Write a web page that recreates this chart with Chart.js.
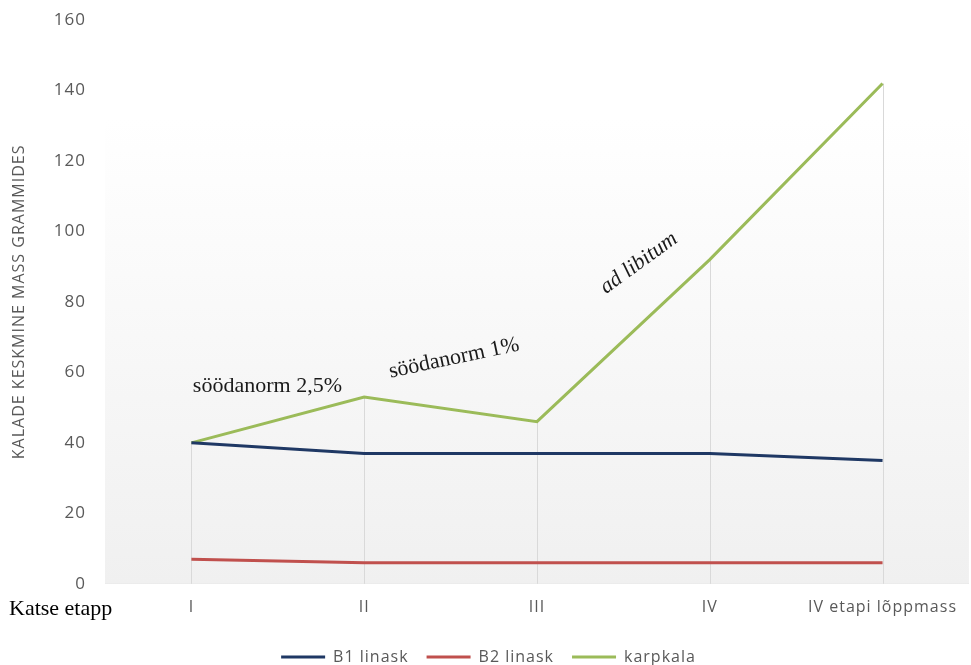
<!DOCTYPE html>
<html>
<head>
<meta charset="utf-8">
<script src="https://cdn.jsdelivr.net/npm/chart.js@4.4.1/dist/chart.umd.min.js"></script>
<style>
  body { margin: 0; background: #fff; }
  #wrap { width: 971px; height: 665px; }
</style>
</head>
<body>
<div id="wrap"><canvas id="chart" width="971" height="665"></canvas></div>
<script>
const categories = ['I', 'II', 'III', 'IV', 'IV etapi lõppmass'];
const b1Linask = [40, 37, 37, 37, 35];
const b2Linask = [7, 6, 6, 6, 6];
const karpkala = [40, 53, 46, 92, 142];
const yTicks = [0, 20, 40, 60, 80, 100, 120, 140, 160];

// text labels placed on the chart: [category index, value, angle in degrees, text, italic]
const notes = [
  [0.44, 56, 0, 'söödanorm 2,5%', false],
  [1.52, 64, -12, 'söödanorm 1%', false],
  [2.59, 91, -36, 'ad libitum', true]
];

const sans = '"Open Sans", Lato, sans-serif';
const serif = '"Liberation Serif", "DejaVu Serif", serif';

// the reference's sans text is a little spaced out
// (set again before layout and draw, resizing the canvas resets it)
const spacing = {
  id: 'spacing',
  beforeUpdate(chart) { chart.ctx.letterSpacing = '1px'; },
  beforeDraw(chart) { chart.ctx.letterSpacing = '1px'; }
};

// plot background: white at top fading to light grey at the axis
const backdrop = {
  id: 'backdrop',
  beforeDatasetsDraw(chart) {
    const { ctx, chartArea, scales } = chart;
    const top = scales.y.getPixelForValue(132);
    const g = ctx.createLinearGradient(0, top, 0, chartArea.bottom);
    g.addColorStop(0, '#ffffff');
    g.addColorStop(1, '#f0f0f0');
    ctx.save();
    ctx.fillStyle = g;
    ctx.fillRect(chartArea.left, top, chartArea.right - chartArea.left, chartArea.bottom - top);

    // drop lines from the highest point of each category
    ctx.strokeStyle = '#d9d9d9';
    ctx.lineWidth = 1;
    categories.forEach((c, i) => {
      const hi = Math.max(b1Linask[i], b2Linask[i], karpkala[i]);
      const x = Math.round(scales.x.getPixelForValue(i)) + 0.5;
      ctx.beginPath();
      ctx.moveTo(x, scales.y.getPixelForValue(hi));
      ctx.lineTo(x, chartArea.bottom);
      ctx.stroke();
    });
    ctx.restore();
  },
  afterDraw(chart) {
    const { ctx, chartArea, scales } = chart;
    ctx.save();
    ctx.letterSpacing = '0px';
    ctx.fillStyle = '#000';
    ctx.textBaseline = 'middle';
    ctx.textAlign = 'left';
    ctx.font = '22px ' + serif;
    ctx.fillText('Katse etapp', 9, chartArea.bottom + 25);

    ctx.textAlign = 'center';
    notes.forEach(([ci, v, ang, txt, it]) => {
      const x = scales.x.getPixelForValue(0) + ci * (scales.x.getPixelForValue(1) - scales.x.getPixelForValue(0));
      const y = scales.y.getPixelForValue(v);
      ctx.save();
      ctx.translate(x, y);
      ctx.rotate(ang * Math.PI / 180);
      ctx.font = (it ? 'italic ' : '') + '22px ' + serif;
      ctx.fillStyle = '#1a1a1a';
      ctx.fillText(txt, 0, 0);
      ctx.restore();
    });
    ctx.restore();
  }
};

new Chart(document.getElementById('chart'), {
  type: 'line',
  data: {
    labels: categories,
    datasets: [
      { label: 'B1 linask', data: b1Linask, borderColor: '#1f3864', backgroundColor: '#1f3864', borderWidth: 3 },
      { label: 'B2 linask', data: b2Linask, borderColor: '#c0504d', backgroundColor: '#c0504d', borderWidth: 3 },
      { label: 'karpkala', data: karpkala, borderColor: '#9bbb59', backgroundColor: '#9bbb59', borderWidth: 3 }
    ]
  },
  options: {
    responsive: false,
    animation: false,
    layout: { padding: { top: 20, right: -6, left: 0, bottom: -10 } },
    elements: { point: { radius: 0 }, line: { tension: 0 } },
    plugins: {
      tooltip: { enabled: false },
      legend: {
        position: 'bottom',
        labels: {
          usePointStyle: true,
          pointStyle: 'line',
          pointStyleWidth: 44,
          boxHeight: 3,
          color: '#595959',
          font: { family: sans, size: 16 },
          padding: 18
        }
      }
    },
    scales: {
      x: {
        offset: true,
        grid: { display: false, drawTicks: false },
        border: { display: true, color: '#d9d9d9', width: 1 },
        ticks: { color: '#595959', font: { family: sans, size: 16 }, padding: 14, maxRotation: 0 }
      },
      y: {
        min: 0,
        max: 160,
        afterFit(scale) { scale.width = 105; },
        afterBuildTicks(scale) { scale.ticks = yTicks.map(v => ({ value: v })); },
        // invisible tick marks push the labels away from the plot
        grid: { display: true, drawOnChartArea: false, drawTicks: true, tickLength: 17, tickColor: 'rgba(0,0,0,0)' },
        border: { display: false },
        ticks: { color: '#595959', font: { family: sans, size: 17 }, padding: 2 },
        title: {
          display: true,
          text: 'KALADE KESKMINE MASS GRAMMIDES',
          color: '#595959',
          font: { family: sans, size: 16 },
          padding: { top: 10, bottom: 0 }
        }
      }
    }
  },
  plugins: [spacing, backdrop]
});
</script>
</body>
</html>
